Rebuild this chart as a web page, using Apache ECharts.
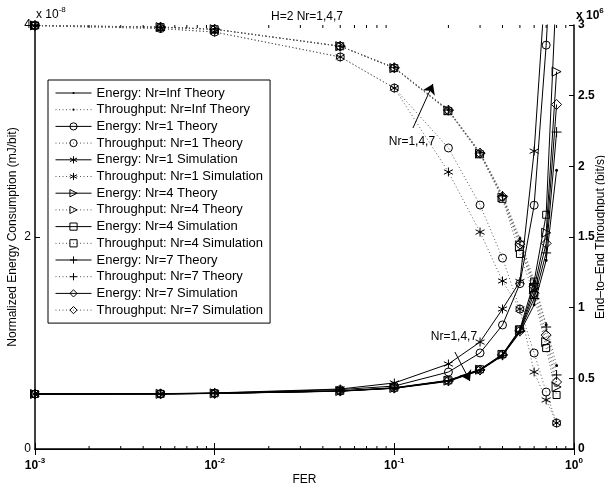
<!DOCTYPE html>
<html><head><meta charset="utf-8">
<script src="https://cdn.jsdelivr.net/npm/echarts@6/dist/echarts.min.js"></script>
<style>html,body{margin:0;padding:0;background:#fff}#c{width:605px;height:488px}</style>
</head><body><div id="c"></div>
<script>
// ---- data (energy in units of 1e-8 mJ/bit, throughput in units of 1e6 bit/s) ----
const FER = [0.001, 0.005, 0.01, 0.05, 0.1, 0.2, 0.3, 0.4, 0.5, 0.6, 0.7, 0.8];

const E_INF   = [0.519, 0.520, 0.524, 0.545, 0.572, 0.638, 0.740, 0.880, 1.100, 1.36, 1.78, 2.63];
const E_1_TH  = [0.519, 0.521, 0.527, 0.560, 0.594, 0.726, 0.906, 1.170, 1.560, 2.30, 3.81, 5.6];
const E_1_SIM = [0.519, 0.522, 0.529, 0.566, 0.623, 0.802, 1.009, 1.321, 1.580, 2.81, 4.5, 6.5];
const E_4_TH  = [0.519, 0.520, 0.525, 0.547, 0.576, 0.645, 0.748, 0.890, 1.120, 1.52, 2.04, 3.56];
const E_4_SIM = [0.519, 0.520, 0.525, 0.548, 0.578, 0.648, 0.752, 0.895, 1.130, 1.58, 2.21, 4.4];
const E_7_TH  = [0.519, 0.520, 0.524, 0.546, 0.574, 0.641, 0.744, 0.885, 1.110, 1.42, 1.85, 2.99];
const E_7_SIM = [0.519, 0.520, 0.525, 0.547, 0.575, 0.643, 0.746, 0.888, 1.115, 1.47, 1.94, 3.25];

const T_INF   = [2.997, 2.985, 2.970, 2.850, 2.700, 2.400, 2.100, 1.800, 1.49, 1.19, 0.880, 0.590];
const T_1_TH  = [2.995, 2.975, 2.950, 2.774, 2.554, 2.130, 1.726, 1.351, 0.99, 0.679, 0.403, 0.184];
const T_1_SIM = [2.995, 2.975, 2.950, 2.774, 2.554, 1.960, 1.535, 1.189, 0.99, 0.545, 0.347, 0.184];
const T_4_TH  = [2.997, 2.985, 2.970, 2.850, 2.695, 2.395, 2.090, 1.780, 1.43, 1.13, 0.757, 0.439];
const T_4_SIM = [2.997, 2.985, 2.970, 2.850, 2.695, 2.390, 2.085, 1.770, 1.38, 1.09, 0.714, 0.382];
const T_7_TH  = [2.997, 2.985, 2.970, 2.850, 2.698, 2.398, 2.095, 1.790, 1.47, 1.17, 0.863, 0.524];
const T_7_SIM = [2.997, 2.985, 2.970, 2.850, 2.697, 2.397, 2.093, 1.785, 1.45, 1.15, 0.806, 0.474];

const X_MINOR_TICKS = [0.002,0.003,0.004,0.005,0.006,0.007,0.008,0.009,
                       0.02,0.03,0.04,0.05,0.06,0.07,0.08,0.09,
                       0.2,0.3,0.4,0.5,0.6,0.7,0.8,0.9];

// annotations: [FER, value]
const ARROW_UP   = [[0.1269, 2.271], [0.164, 2.583]];   // throughput axis
const ARROW_DOWN = [[0.2173, 0.915], [0.2635, 0.6415]]; // energy axis
const TEXT_UP    = [0.1253, 2.172];
const TEXT_DOWN  = [0.2146, 1.057];
const ANNOT_TEXT = 'Nr=1,4,7';

const TITLE = 'H=2 Nr=1,4,7';
const X_NAME = 'FER';
const Y_LEFT_NAME = 'Normalized Energy Consumption (mJ/bit)';
const Y_RIGHT_NAME = 'End–to–End Throughput (bit/s)';

// ---- styling ----
const FONT = 'Liberation Sans, Arial, Helvetica, sans-serif';
const SYM = {
  dot: 'path://M0 0 Z M10 10 Z M3.5 5 A1.5 1.5 0 1 1 6.5 5 A1.5 1.5 0 1 1 3.5 5 Z',
  circle: 'circle',
  star: 'path://M5 0 L5 10 M0.67 2.5 L9.33 7.5 M0.67 7.5 L9.33 2.5',
  tri: 'path://M1 0 L10 5 L1 10 Z',
  square: 'rect',
  plus: 'path://M5 0 L5 10 M0 5 L10 5',
  diamond: 'diamond'
};
const SYM_SIZE = {dot: 10, circle: 8, star: 9, tri: 9, square: 7, plus: 10, diamond: 10};

const DEFS = [
  ['Energy: Nr=Inf Theory',       E_INF,   0, 'dot'],
  ['Throughput: Nr=Inf Theory',   T_INF,   1, 'dot'],
  ['Energy: Nr=1 Theory',         E_1_TH,  0, 'circle'],
  ['Throughput: Nr=1 Theory',     T_1_TH,  1, 'circle'],
  ['Energy: Nr=1 Simulation',     E_1_SIM, 0, 'star'],
  ['Throughput: Nr=1 Simulation', T_1_SIM, 1, 'star'],
  ['Energy: Nr=4 Theory',         E_4_TH,  0, 'tri'],
  ['Throughput: Nr=4 Theory',     T_4_TH,  1, 'tri'],
  ['Energy: Nr=4 Simulation',     E_4_SIM, 0, 'square'],
  ['Throughput: Nr=4 Simulation', T_4_SIM, 1, 'square'],
  ['Energy: Nr=7 Theory',         E_7_TH,  0, 'plus'],
  ['Throughput: Nr=7 Theory',     T_7_TH,  1, 'plus'],
  ['Energy: Nr=7 Simulation',     E_7_SIM, 0, 'diamond'],
  ['Throughput: Nr=7 Simulation', T_7_SIM, 1, 'diamond']
];

const series = DEFS.map(([name, vals, axis, sym]) => {
  const filled = sym === 'dot';
  return {
    name, type: 'line', xAxisIndex: 0, yAxisIndex: axis,
    data: FER.map((f, i) => [f, vals[i]]),
    symbol: SYM[sym], symbolSize: SYM_SIZE[sym], showSymbol: true, showAllSymbol: true,
    clip: true,
    lineStyle: axis === 0 ? {color: '#000', width: 1, type: 'solid'}
                          : {color: '#555', width: 1, type: [1, 2.5]},
    itemStyle: filled ? {color: '#000', borderWidth: 0}
                      : {color: 'rgba(0,0,0,0)', borderColor: '#000', borderWidth: 1},
    emphasis: {disabled: true},
    z: axis === 0 ? 3 : 2
  };
});

// annotation arrows and texts
series[1].markLine = {
  silent: true, symbol: ['none', 'arrow'], symbolSize: 10, animation: false,
  lineStyle: {color: '#000', width: 1, type: 'solid'}, label: {show: false},
  emphasis: {disabled: true},
  data: [[{coord: ARROW_UP[0]}, {coord: ARROW_UP[1]}]]
};
series[1].markPoint = {
  silent: true, symbol: 'rect', symbolSize: 0, animation: false,
  label: {show: true, position: 'inside', formatter: ANNOT_TEXT, color: '#000', fontSize: 12, fontFamily: FONT},
  data: [{coord: TEXT_UP}]
};
series[0].markLine = {
  silent: true, symbol: ['none', 'arrow'], symbolSize: 10, animation: false,
  lineStyle: {color: '#000', width: 1, type: 'solid'}, label: {show: false},
  emphasis: {disabled: true},
  data: [[{coord: ARROW_DOWN[0]}, {coord: ARROW_DOWN[1]}]]
};
series[0].markPoint = {
  silent: true, symbol: 'rect', symbolSize: 0, animation: false,
  label: {show: true, position: 'inside', formatter: ANNOT_TEXT, color: '#000', fontSize: 12, fontFamily: FONT},
  data: [{coord: TEXT_DOWN}]
};

// minor ticks of the log axis (bottom and top), through the axis scale
series.push({
  type: 'custom', xAxisIndex: 0, yAxisIndex: 0, silent: true, clip: false, z: 10,
  data: X_MINOR_TICKS.map(v => [v, 0]),
  renderItem: (params, api) => {
    const x = api.value(0);
    const b = api.coord([x, 0]);
    const t = api.coord([x, 4]);
    const st = {stroke: '#000', lineWidth: 1};
    return {type: 'group', children: [
      {type: 'line', shape: {x1: b[0], y1: b[1], x2: b[0], y2: b[1] - 3}, style: st},
      {type: 'line', shape: {x1: t[0], y1: t[1], x2: t[0], y2: t[1] + 3}, style: st}
    ]};
  }
});

const supFmt = v => '{b|10}{s|' + Math.round(Math.log10(v)) + '}';

const option = {
  animation: false,
  backgroundColor: '#fff',
  textStyle: {fontFamily: FONT},
  title: {text: TITLE, left: 266, top: 6, textStyle: {fontSize: 12, fontWeight: 'normal', color: '#000', fontFamily: FONT}},
  grid: {left: 35, right: 31, top: 25, bottom: 39, containLabel: false, outerBoundsMode: 'none'},
  legend: {
    orient: 'vertical', left: 48, top: 80,
    data: DEFS.map(d => d[0]),
    itemWidth: 36, itemHeight: 9, itemGap: 2.7,
    padding: [6, 7, 6, 7],
    borderColor: '#000', borderWidth: 1, backgroundColor: '#fff',
    selectedMode: false,
    textStyle: {fontSize: 13, lineHeight: 14, color: '#000', fontFamily: FONT},
    itemStyle: {borderWidth: 1},
    lineStyle: {width: 1}
  },
  xAxis: [{
    type: 'log', logBase: 10, min: 0.001, max: 1, position: 'bottom',
    name: X_NAME, nameLocation: 'middle', nameGap: 25, nameMoveOverlap: false,
    nameTextStyle: {fontSize: 12, color: '#000', fontFamily: FONT},
    axisLine: {lineStyle: {color: '#000', width: 1.5}},
    axisTick: {inside: true, length: 6, lineStyle: {color: '#000'}},
    splitLine: {show: false},
    axisLabel: {margin: 8, formatter: supFmt, rich: {
      b: {fontSize: 12, fontWeight: 'bold', color: '#000', fontFamily: FONT},
      s: {fontSize: 8, fontWeight: 'bold', color: '#000', fontFamily: FONT, padding: [0, 0, 9, 0]}
    }}
  }, {
    type: 'log', logBase: 10, min: 0.001, max: 1, position: 'top',
    axisLine: {lineStyle: {color: '#000', width: 1}},
    axisTick: {inside: true, length: 6, lineStyle: {color: '#000'}},
    splitLine: {show: false}, axisLabel: {show: false}
  }],
  yAxis: [{
    type: 'value', min: 0, max: 4, interval: 2, position: 'left',
    name: Y_LEFT_NAME, nameLocation: 'middle', nameGap: 16, nameRotate: 90, nameMoveOverlap: false,
    nameTextStyle: {fontSize: 12, color: '#000', fontFamily: FONT},
    axisLine: {show: true, lineStyle: {color: '#000', width: 1.5}},
    axisTick: {show: true, inside: true, length: 5, lineStyle: {color: '#000'}},
    splitLine: {show: false},
    axisLabel: {margin: 4, fontSize: 12, color: '#000', fontFamily: FONT}
  }, {
    type: 'value', min: 0, max: 3, interval: 0.5, position: 'right',
    name: Y_RIGHT_NAME, nameLocation: 'middle', nameGap: 21, nameRotate: 90, nameMoveOverlap: false,
    nameTextStyle: {fontSize: 12, color: '#000', fontFamily: FONT},
    axisLine: {show: true, lineStyle: {color: '#000', width: 1.5}},
    axisTick: {show: true, inside: true, length: 5, lineStyle: {color: '#000'}},
    splitLine: {show: false},
    axisLabel: {margin: 4, fontSize: 12, fontWeight: 'bold', color: '#000', fontFamily: FONT}
  }],
  graphic: [
    {type: 'text', left: 36, top: 6, silent: true, style: {
      text: '{a|x 10}{s|-8}', rich: {
        a: {fontSize: 12, fill: '#000', fontFamily: FONT},
        s: {fontSize: 8, fill: '#000', fontFamily: FONT, padding: [0, 0, 9, 0]}
      }}},
    {type: 'text', left: 576, top: 7, silent: true, style: {
      text: '{a|x 10}{s|6}', rich: {
        a: {fontSize: 12, fontWeight: 'bold', fill: '#000', fontFamily: FONT},
        s: {fontSize: 8, fontWeight: 'bold', fill: '#000', fontFamily: FONT, padding: [0, 0, 9, 0]}
      }}}
  ],
  series
};

const chart = echarts.init(document.getElementById('c'), null, {renderer: 'canvas'});
chart.setOption(option);
</script></body></html>
